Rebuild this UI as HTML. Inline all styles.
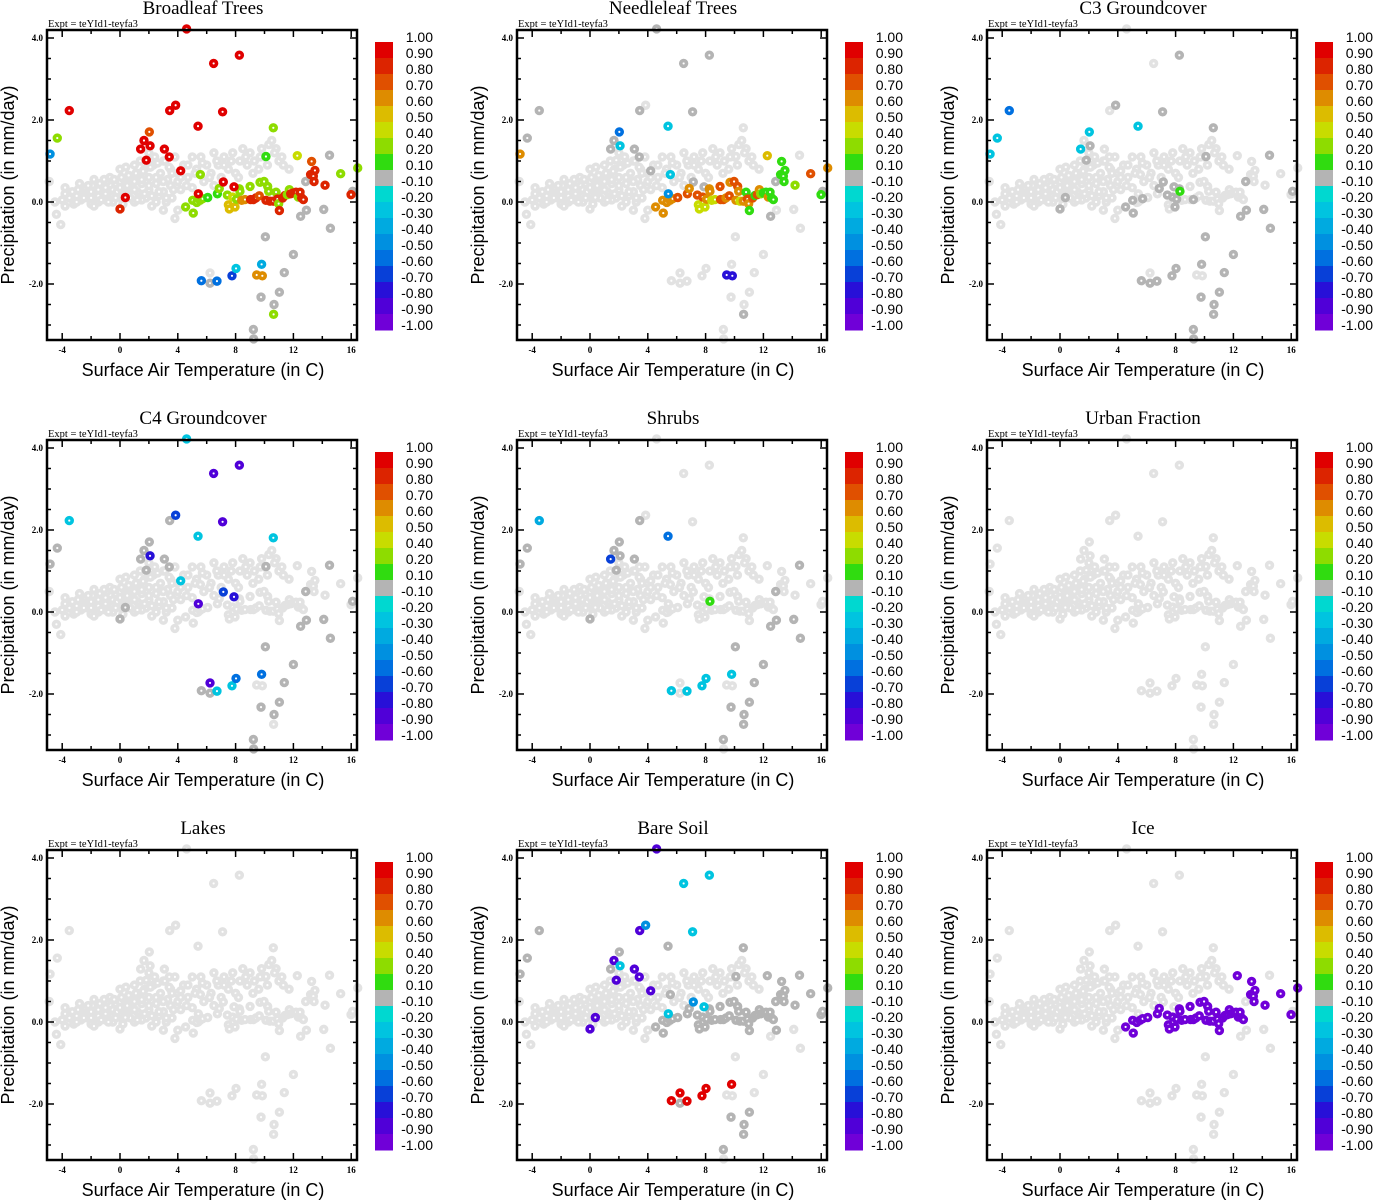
<!DOCTYPE html>
<html><head><meta charset="utf-8">
<style>
html,body{margin:0;padding:0;background:#fff;}
svg{display:block;}
.serif{font-family:"Liberation Serif",serif;}
.sans{font-family:"Liberation Sans",sans-serif;}
</style></head>
<body>
<svg id="fig" width="1373" height="1200" viewBox="0 0 1373 1200" xmlns="http://www.w3.org/2000/svg"></svg>
<script>
const N = null;
const titles = ["Broadleaf Trees","Needleleaf Trees","C3 Groundcover","C4 Groundcover","Shrubs","Urban Fraction","Lakes","Bare Soil","Ice"];
const xTicks = [-4,0,4,8,12,16];
const yTicks = [4.0,2.0,0.0,-2.0];
const cbBounds = [1.00,0.90,0.80,0.70,0.60,0.50,0.40,0.20,0.10,-0.10,-0.20,-0.30,-0.40,-0.50,-0.60,-0.70,-0.80,-0.90,-1.00];
const cbLabels = ["1.00","0.90","0.80","0.70","0.60","0.50","0.40","0.20","0.10","-0.10","-0.20","-0.30","-0.40","-0.50","-0.60","-0.70","-0.80","-0.90","-1.00"];
const cbColors = ["#e00000","#dc2400","#e05000","#de8c00","#dcbc00","#c8dc00","#8edc00","#30dc10","#b4b4b4","#00d8d0","#00c4e0","#00aae0","#0090e0","#0070e0","#0840d8","#2810d8","#5000d8","#7000d8"];

const cloudT=[-4.5,-4,-3.5,-3.2,-3,-2.7,-2.5,-2.2,-2,-2,-1.7,-1.5,-1.5,-1.2,-1,-1,-0.8,-0.5,-0.5,-0.3,0,0,0.2,0.3,0.5,0.5,0.8,1,1,1.2,1.3,1.5,1.7,1.8,2,2,2.3,2.5,2.5,2.8,3,3,3.3,3.5,3.6,3.8,4,4.2,4.4,4.7,5,5,5.3,5.6,5.8,6,6.3,6.5,6.8,7,7.2,7.5,7.8,8,8.3,8.5,8.8,9,9.3,9.6,9.8,10,10.3,10.5,10.8,11,11.3,-4.9,-4.4,-4.1,-3.8,-2.8,-1.8,0,1,2,-0.7,3,3.2,3.8,4,6.5,5.4,4.6,2.2,-3.8,-2.5,-1,0.5,1.5,-0.2,1.2,2.7];
const cloudP=[0,0.05,0.1,-0.05,0.15,0.05,0.2,0.1,0.25,-0.05,0.15,0.3,0,0.2,0.35,0.05,0.15,0.3,0,0.45,0.2,0.5,0.05,0.35,0.6,0.15,0.3,0.5,0,0.7,0.2,0.45,0.8,0.1,0.6,0.3,0.9,0.45,0,0.7,0.25,1,0.55,0.8,0.1,1.1,0.5,0.3,0.9,0.6,1.1,0.35,0.8,1.1,0.5,0.9,0.7,1.2,0.9,0.6,1.1,0.8,1.2,0.7,1,1.3,0.9,1.2,1,0.8,1.3,1.1,1.4,1.5,1.3,1,0.9,0.5,-0.3,-0.55,0.35,0.45,0.55,0.8,0.9,1.2,0.6,-0.2,0,-0.4,-0.2,0.4,0,0.4,-0.1,-0.1,0.3,0.1,0.45,0.05,0.25,0.25,0.15];
const cloud2T=[-3.8,-3.3,-2.9,-2.4,-1.9,-1.4,-0.9,-0.4,0.1,0.6,1.1,1.6,2.1,2.6,3.1,3.6,-3.0,-2.5,-2.0,-1.5,-1.0,-0.5,0,0.5,1.0,1.5,2.0,2.5,3.0,3.5,4.0,-1.8,-1.3,-0.8,-0.3,0.2,0.7,1.2,1.7,2.2,2.7,3.2,3.7,4.2,4.7,5.2,5.7,6.2,6.7,7.2,7.7,8.2,8.7,9.2,9.7,10.2,10.7,11.2,11.7,-2.2,-1.1,0.4,1.4,2.4,3.4];
const cloud2P=[0.2,0.25,0.3,0.35,0.4,0.45,0.5,0.55,0.6,0.65,0.7,0.75,0.85,0.95,1.0,0.7,0.0,0.1,0.1,0.15,0.2,0.15,0.35,0.4,0.3,0.55,0.4,0.6,0.5,0.4,0.7,-0.1,0.05,0.0,0.1,-0.05,0.1,0.05,0.2,0.15,0.25,0.1,0.3,0.6,0.9,0.7,0.95,0.6,1.0,0.9,1.0,0.6,1.1,0.7,1.1,0.9,1.2,1.1,0.8,0.4,0.55,0.85,1.0,1.1,0.85];

const bandT=[4.54,5.03,5.07,5.31,5.54,5.72,6.07,6.74,6.87,7.43,7.50,7.57,7.80,7.96,8.07,8.26,8.30,8.42,8.65,9.00,9.04,9.23,9.41,9.64,9.69,9.97,10.10,10.22,10.29,10.38,10.61,10.80,10.89,10.98,11.03,11.26,11.42,11.58,11.72,11.81,12.00,12.18,12.34,12.46,12.57,12.69,12.27,13.26,13.19,13.38,13.49,13.43,14.19,15.27,15.99,16.45];
const bandP=[-0.12,0.04,-0.27,-0.01,0.04,0.08,0.11,0.20,0.33,0.17,-0.07,-0.17,0.12,-0.12,0.07,0.32,0.26,0.04,0.06,0.38,0.06,0.06,0.10,0.15,0.48,0.50,0.04,0.38,0.26,0.02,0.02,0.24,0.07,-0.04,-0.21,0.10,0.16,0.18,0.30,0.20,0.22,0.24,0.12,0.24,0.10,0.06,1.13,0.99,0.67,0.63,0.77,0.50,0.41,0.69,0.18,0.83];

const outT=[4.61,8.26,6.48,-3.51,3.44,3.85,7.10,5.40,10.61,-4.34,-4.84,2.03,1.66,1.43,2.08,3.07,3.41,1.82,10.10,4.20,5.56,7.15,7.89,5.42,0.37,0.0,14.5,12.85,5.63,6.23,6.23,6.71,7.75,8.03,9.80,9.46,9.85,10.06,12.0,11.37,11.03,9.76,10.66,10.63,9.23,9.25,14.1,14.56,12.9,12.5,16.1];
const outP=[4.22,3.58,3.38,2.23,2.23,2.36,2.20,1.85,1.81,1.56,1.17,1.71,1.50,1.29,1.37,1.29,1.10,1.02,1.11,0.76,0.67,0.49,0.37,0.20,0.11,-0.17,1.14,0.5,-1.92,-1.73,-1.98,-1.93,-1.80,-1.62,-1.52,-1.78,-1.80,-0.85,-1.28,-1.72,-2.20,-2.32,-2.50,-2.74,-3.11,-3.34,-0.18,-0.64,-0.2,-0.35,0.26];

const broadleafBand=[.3,.3,.3,.3,.3,.3,.15,.15,.3,.3,.5,.55,.4,.55,.3,.3,.3,.6,.65,.3,.8,.8,.8,.7,.3,.3,.8,.3,.3,.8,.8,.35,.8,.3,.85,.85,.85,.35,.3,.85,.85,.85,.3,.85,.85,.85,.45,.75,.85,.85,.85,.8,.85,.3,.85,.3];
const broadleafOut=[.95,.95,.95,.95,.95,.95,.95,.95,.3,.3,-.45,.75,.95,.95,.95,.95,.95,.95,.15,.95,.3,.95,.95,.95,.95,.85,0,0,-.6,N,0,-.55,-.7,-.3,-.4,.65,.65,0,0,0,0,0,0,.3,0,0,0,0,0,0,0];
const needleBand=[.65,.65,.65,.65,.65,.65,.75,.75,.65,.75,.45,.45,.75,.45,.6,.65,.65,.4,.4,.75,.75,.75,.65,.75,.65,.75,.65,.75,.65,.4,.65,.15,.75,.65,.15,.75,.15,.75,.6,.35,.15,.15,.6,.15,.15,.15,.55,.15,.15,.15,.15,.15,.35,.75,.15,.65];
const needleOut=[0,0,0,0,0,N,0,-.3,N,0,.65,-.55,0,0,-.25,0,0,N,N,0,-.3,0,0,-.5,N,N,N,0,N,N,N,N,N,N,N,-.75,-.75,N,N,N,N,N,N,0,N,N,N,N,N,0,0];
const c3Band=[0,0,0,N,N,0,N,N,0,0,N,N,0,0,0,0,.15,N,N,N,N,0,N,N,N,N,N,N,N,N,N,N,N,N,N,N,N,N,N,N,N,N,N,N,N,N,N,N,N,N,N,N,N,N,N,N];
const c3Out=[N,0,N,-.55,N,0,0,-.25,0,-.25,-.25,-.25,N,-.25,0,N,N,0,0,N,N,0,0,N,0,0,0,0,0,N,0,0,0,0,0,N,N,0,0,0,0,0,0,0,0,0,0,0,0,0,0];
const c4Band=[];
const c4Out=[-.25,-.9,-.9,-.25,0,-.7,-.9,-.25,-.25,0,0,0,0,0,-.8,0,0,0,0,-.25,N,-.7,-.8,-.85,0,0,0,0,0,-.9,0,-.25,-.25,-.55,-.55,N,N,0,0,0,0,0,0,N,0,0,0,0,0,0,0];
const shrubBand=[N,N,N,N,N,N,N,N,N,N,N,N,N,N,N,N,.15];
const shrubOut=[N,N,N,-.35,0,N,N,-.6,N,0,0,0,0,-.7,0,0,N,0,N,N,N,N,N,N,N,0,0,0,-.25,N,N,-.25,-.3,-.3,-.3,N,N,0,0,0,0,0,0,0,0,N,0,0,0,0,N];
const urbanBand=[], urbanOut=[];
const lakeBand=[], lakeOut=[];
const soilBand=[0,0,0,0,0,0,0,0,0,0,0,0,0,0,0,0,0,0,0,0,0,0,0,0,0,0,0,0,0,0,0,0,0,0,0,0,0,0,0,0,0,0,0,0,0,0,0,0,0,0,0,0,0,0,0,0];
const soilOut=[-.9,-.25,-.25,0,-.9,-.45,-.25,0,0,0,0,0,-.9,0,-.25,-.9,-.9,-.9,0,-.9,0,-.45,-.25,-.25,-.9,-.9,0,0,.95,.95,0,.95,.95,.95,.95,N,N,N,N,N,0,0,0,0,0,N,N,N,0,N,0];
const iceBand=[-.95,-.95,-.95,-.95,-.95,-.95,-.95,-.95,-.95,-.95,-.95,-.95,-.95,-.95,-.95,-.95,-.95,-.95,-.95,-.95,-.95,-.95,-.95,-.95,-.95,-.95,-.95,-.95,-.95,-.95,-.95,-.95,-.95,-.95,-.95,-.95,-.95,-.95,-.95,-.95,-.95,-.95,-.95,-.95,-.95,-.95,-.95,-.95,-.95,-.95,-.95,-.95,-.95,-.95,-.95,-.95];
const iceOut=[];

const panelBand=[broadleafBand,needleBand,c3Band,c4Band,shrubBand,urbanBand,lakeBand,soilBand,iceBand];
const panelOut=[broadleafOut,needleOut,c3Out,c4Out,shrubOut,urbanOut,lakeOut,soilOut,iceOut];

const NS="http://www.w3.org/2000/svg";
const svg=document.getElementById('fig');
function mk(tag,attrs,parent){const e=document.createElementNS(NS,tag);for(const k in attrs)e.setAttribute(k,attrs[k]);(parent||svg).appendChild(e);return e;}
function colorFor(v){
  if(v===null||v===undefined) return "#e2e2e2";
  for(let i=0;i<cbColors.length;i++){ if(v<=cbBounds[i] && v>=cbBounds[i+1]) return cbColors[i]; }
  return v>1?cbColors[0]:cbColors[cbColors.length-1];
}
const L=47,R=357,T=30,B=340;
function sx(t,ox){return ox+120+t*14.45;}
function sy(p,oy){return oy+202-p*41;}
function slug(s){return s.toLowerCase().replace(/[^a-z0-9]+/g,'-');}

titles.forEach((title,k)=>{
  const ox=(k%3)*470, oy=Math.floor(k/3)*410;
  const g=mk('g',{});
  
  
  const tt=mk('text',{x:ox+203,y:oy+14,'text-anchor':'middle','font-size':19,class:'serif'},g);
  tt.textContent=title;
  
  
  const ex=mk('text',{x:ox+48,y:oy+27,'font-size':10.5,class:'serif'},g);
  ex.textContent="Expt = teYId1-teyfa3";
  
  
  const pg=mk('g',{},g);
  
  
  function dot(t,p,v){
    const cy=sy(p,oy); if(cy<oy+T-6||cy>oy+B+6) return;
    const c=mk('circle',{cx:sx(t,ox),cy:cy,r:2.9,fill:'#fff',stroke:colorFor(v),'stroke-width':3.6},pg);
    
    
  }
  for(let i=0;i<Math.min(cloudT.length,cloudP.length);i++) dot(cloudT[i],cloudP[i],null);
  for(let i=0;i<Math.min(cloud2T.length,cloud2P.length);i++) dot(cloud2T[i],cloud2P[i],null);
  const bv=panelBand[k], ov=panelOut[k];
  const pts=[];
  for(let i=0;i<bandT.length;i++) pts.push([bandT[i],bandP[i],bv[i]===undefined?null:bv[i]]);
  for(let i=0;i<outT.length;i++) pts.push([outT[i],outP[i],ov[i]===undefined?null:ov[i]]);
  pts.filter(q=>q[2]===null).forEach(q=>dot(q[0],q[1],null));
  pts.filter(q=>q[2]!==null&&Math.abs(q[2])<0.1).forEach(q=>dot(q[0],q[1],q[2]));
  pts.filter(q=>q[2]!==null&&Math.abs(q[2])>=0.1).forEach(q=>dot(q[0],q[1],q[2]));
  const fr=mk('rect',{x:ox+L,y:oy+T,width:R-L,height:B-T,fill:'none',stroke:'#000','stroke-width':2.5},g);
  
  
  for(let t=-4;t<=16;t+=2){
    const x=sx(t,ox); const major=(t%4===0); const len=major?7:4;
    mk('line',{x1:x,y1:oy+B,x2:x,y2:oy+B-len,stroke:'#000','stroke-width':1.5},g);
    mk('line',{x1:x,y1:oy+T,x2:x,y2:oy+T+len,stroke:'#000','stroke-width':1.5},g);
  }
  xTicks.forEach(t=>{
    const lb=mk('text',{x:sx(t,ox),y:oy+B+13,'text-anchor':'middle','font-size':9,'font-weight':'bold',class:'serif'},g);
    lb.textContent=String(t);
    
    
  });
  for(let p=-3.0;p<=4.0;p+=0.5){
    const y=sy(p,oy); const major=Math.abs(p%2)<0.01; const len=major?7:4;
    mk('line',{x1:ox+L,y1:y,x2:ox+L+len,y2:y,stroke:'#000','stroke-width':1.5},g);
    mk('line',{x1:ox+R,y1:y,x2:ox+R-len,y2:y,stroke:'#000','stroke-width':1.5},g);
  }
  yTicks.forEach(p=>{
    const lb=mk('text',{x:ox+43,y:sy(p,oy)+3,'text-anchor':'end','font-size':9,'font-weight':'bold',class:'serif'},g);
    lb.textContent=p.toFixed(1);
    
    
  });
  const xt=mk('text',{x:ox+203,y:oy+376,'text-anchor':'middle','font-size':18,class:'sans'},g);
  xt.textContent="Surface Air Temperature (in C)";
  
  
  const yt=mk('text',{x:0,y:0,'text-anchor':'middle','font-size':18,class:'sans',transform:`translate(${ox+14},${oy+185}) rotate(-90)`},g);
  yt.textContent="Precipitation (in mm/day)";
  
  
  const cb=mk('g',{},g);
  
  
  cbColors.forEach((c,i)=>{
    const r=mk('rect',{x:ox+375,y:oy+42+i*16,width:18,height:16.5,fill:c},cb);
    
    
  });
  cbLabels.forEach((s,i)=>{
    const lb=mk('text',{x:ox+433,y:oy+42+i*16,'text-anchor':'end','font-size':14,class:'sans'},cb);
    lb.textContent=s;
    
    
  });
});
</script>
</body></html>
